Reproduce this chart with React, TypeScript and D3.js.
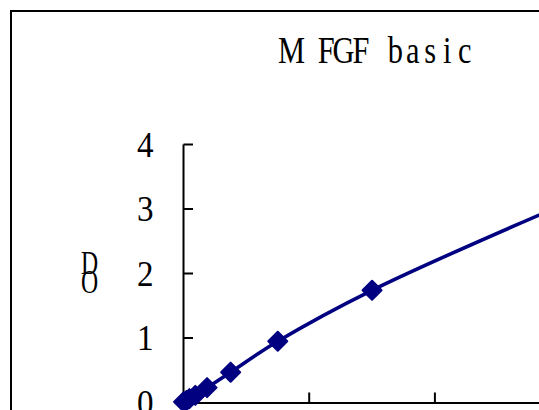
import React from "react";
import * as d3 from "d3";

const title = "M FGF basic";
const yLabelChars = ["D", "O"];
const concentrations = [0, 23.44, 46.88, 93.75, 187.5, 375, 750, 1500, 3000];
const odValues = [0.01, 0.03, 0.06, 0.11, 0.23, 0.47, 0.95, 1.74, 3.05];
const yTicks = [0, 1, 2, 3, 4];
const xTicks = [0, 1000, 2000, 3000];

const W = 539;
const H = 410;
const NAVY = "#000080";

export default function App() {
  const x = d3.scaleLinear().domain([0, 1000]).range([183.5, 309.2]);
  const y = d3.scaleLinear().domain([0, 4]).range([402.5, 144.5]);
  const pts = concentrations.map((c, i) => [x(c), y(odValues[i])] as [number, number]);
  const line = d3.line().curve(d3.curveCatmullRom.alpha(0.5))(pts) || "";
  const d = 9.5;
  const diamond = `M0,${-d}L${d},0L0,${d}L${-d},0Z`;
  const font = "'Liberation Serif', 'DejaVu Serif', serif";
  const sx = 0.8;
  const adv = 17.3;
  const titleXs = title.split("").map((_, i) => ((283 + adv / 2 + i * adv) / sx).toFixed(2)).join(" ");

  return (
    <div style={{ position: "absolute", left: 0, top: 0 }}>
      <svg width={W} height={H} style={{ display: "block", background: "#fff" }}>
        <rect x={11} y={11} width={W} height={H} fill="#fff" stroke="#000" strokeWidth={2} />
        <g transform={`scale(${sx},1)`}>
          <text x={titleXs} y={63} textAnchor="middle" fontFamily={font} fontSize={38} fill="#000">
            {title}
          </text>
        </g>
        {yLabelChars.map((ch, i) => (
          <text key={ch} transform={`translate(89.5,${274 + i * 19}) scale(0.72,1)`} textAnchor="middle" fontFamily={font} fontSize={33} fill="#000">
            {ch}
          </text>
        ))}
        {/* y axis */}
        <line x1={x(0)} x2={x(0)} y1={y(4)} y2={y(0)} stroke="#000" strokeWidth={2} />
        {yTicks.map((t) => (
          <g key={t}>
            <line x1={x(0)} x2={x(0) + 9.5} y1={y(t)} y2={y(t)} stroke="#000" strokeWidth={2} />
            <text transform={`translate(153.5,${y(t)}) scale(0.92,1)`} dy="0.34em" textAnchor="end" fontFamily={font} fontSize={36} fill="#000">
              {t}
            </text>
          </g>
        ))}
        {/* x axis */}
        <line x1={x(0)} x2={W + 10} y1={y(0) + 0.5} y2={y(0) + 0.5} stroke="#000" strokeWidth={2} />
        {xTicks.map((t) => (
          <line key={t} x1={x(t)} x2={x(t)} y1={y(0)} y2={y(0) - 10} stroke="#000" strokeWidth={2} />
        ))}
        <path d={line} fill="none" stroke={NAVY} strokeWidth={3.6} />
        {pts.map((p, i) => (
          <path key={i} d={diamond} transform={`translate(${p[0]},${p[1]})`} fill={NAVY} stroke={NAVY} strokeWidth={2} strokeLinejoin="round" />
        ))}
      </svg>
    </div>
  );
}
